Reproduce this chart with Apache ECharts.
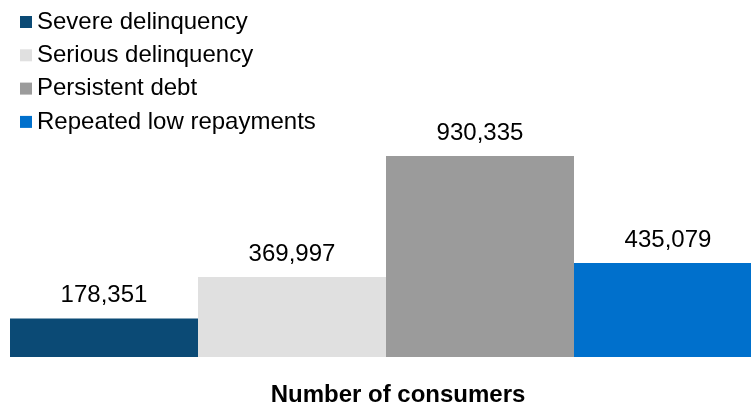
<!DOCTYPE html>
<html>
<head>
<meta charset="utf-8">
<script src="https://cdn.jsdelivr.net/npm/echarts@6/dist/echarts.min.js"></script>
<style>html,body{margin:0;padding:0;background:#fff}#c{width:751px;height:407px}</style>
</head>
<body>
<div id="c"></div>
<script>
const categories = ["Number of consumers"];
const seriesNames = ["Severe delinquency", "Serious delinquency", "Persistent debt", "Repeated low repayments"];
const seriesValues = [178351, 369997, 930335, 435079];
const seriesColors = ["#0B4A75", "#E0E0E0", "#9B9B9B", "#0070CC"];

const FONT = "'Liberation Sans', Arial, sans-serif";
const fmt = v => String(v).replace(/\B(?=(\d{3})+(?!\d))/g, ",");

const chart = echarts.init(document.getElementById('c'), null, {renderer: 'canvas'});
chart.setOption({
  animation: false,
  backgroundColor: '#ffffff',
  legend: {
    orient: 'vertical',
    left: 15,
    top: 5,
    itemWidth: 12,
    itemHeight: 12,
    itemGap: 9.3,
    icon: 'rect',
    data: seriesNames,
    textStyle: {fontFamily: FONT, fontSize: 24, color: '#000', lineHeight: 24}
  },
  grid: {left: 21, right: 0, top: 141, height: 217.5, containLabel: false},
  xAxis: {
    type: 'category',
    data: categories,
    axisLine: {show: false},
    axisTick: {show: false},
    axisLabel: {
      fontFamily: FONT, fontSize: 24, fontWeight: 'bold', color: '#000',
      margin: 26, lineHeight: 24, padding: [0, 0, 0, 24]
    }
  },
  yAxis: {type: 'value', min: 0, max: 1000000, show: false, splitLine: {show: false}},
  series: seriesNames.map((name, i) => ({
    name: name,
    type: 'bar',
    barGap: '0%',
    barWidth: 188,
    clip: false,
    data: [seriesValues[i]],
    itemStyle: {color: seriesColors[i]},
    label: {
      show: true,
      position: 'top',
      distance: 11,
      formatter: p => fmt(p.value),
      fontFamily: FONT, fontSize: 24, color: '#000'
    }
  }))
});
</script>
</body>
</html>
